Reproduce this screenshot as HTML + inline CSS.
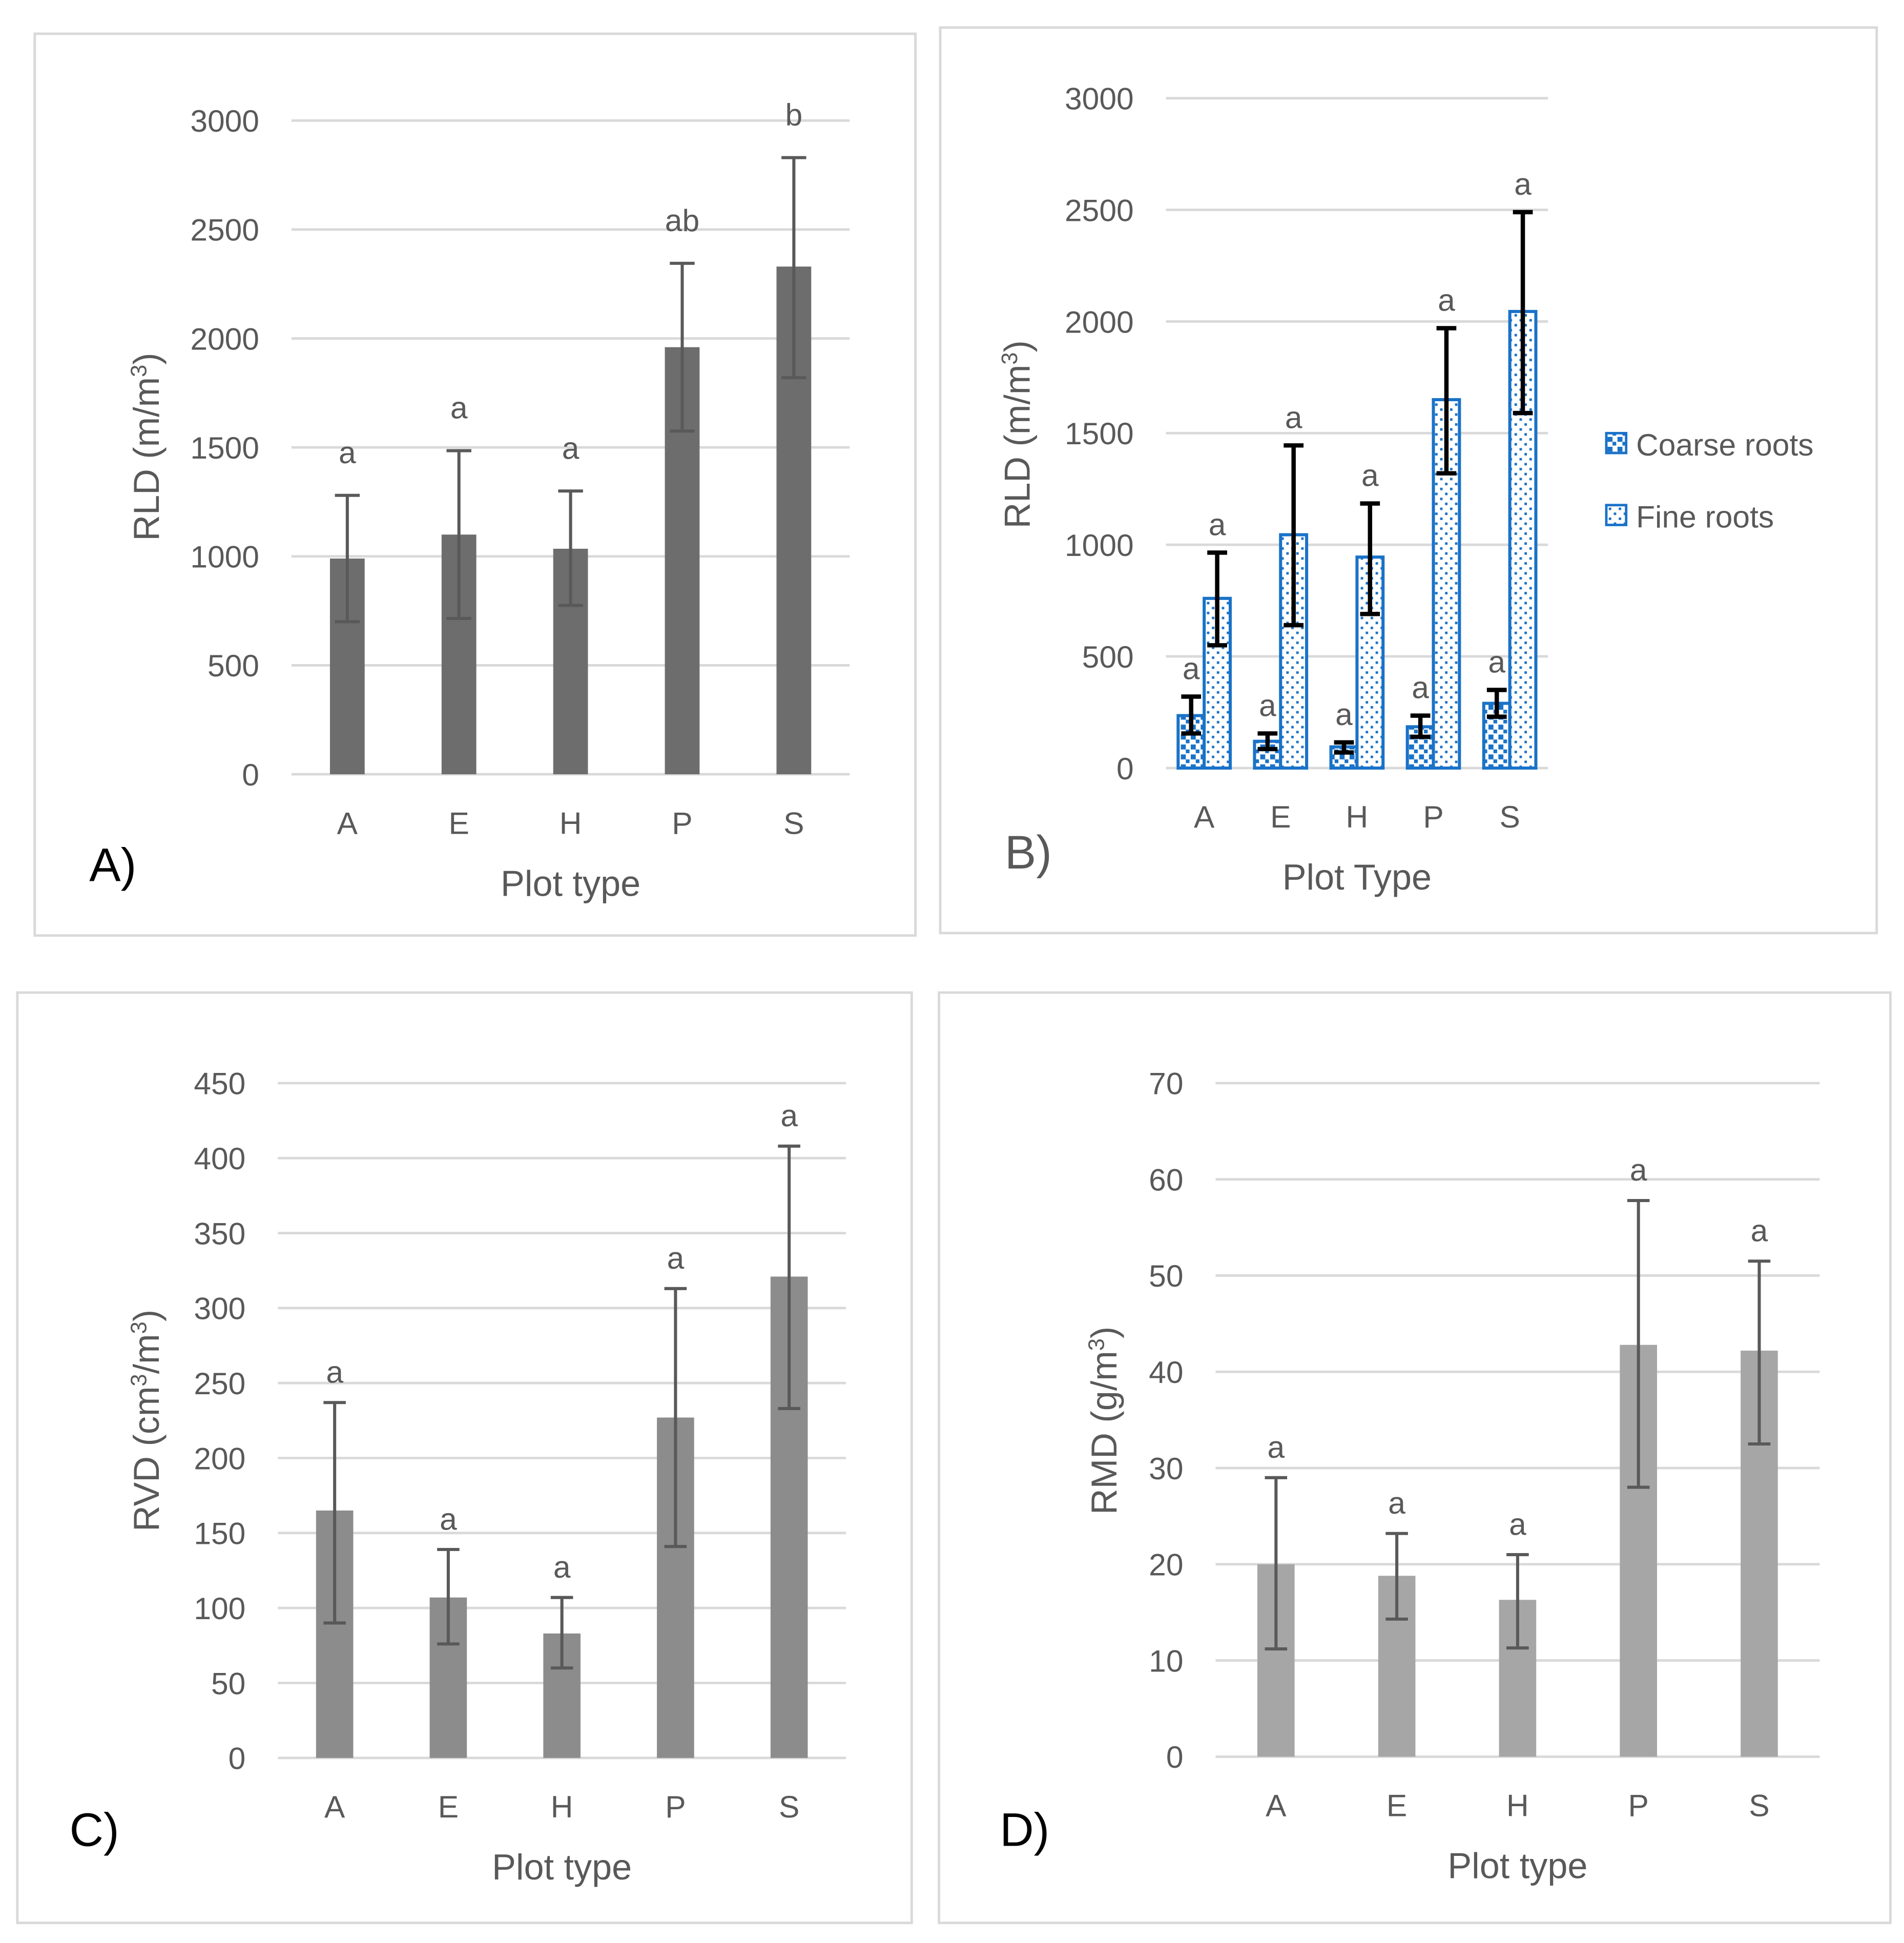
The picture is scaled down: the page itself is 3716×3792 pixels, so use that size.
<!DOCTYPE html>
<html><head><meta charset="utf-8"><style>
html,body{margin:0;padding:0;background:#fff}
svg{display:block;font-family:"Liberation Sans","DejaVu Sans",sans-serif}
</style></head><body>
<svg id="fig" width="3716" height="3792" viewBox="0 0 1535 1566" xmlns="http://www.w3.org/2000/svg">
<defs>
<pattern id="coarse" width="8" height="8" patternUnits="userSpaceOnUse">
<rect width="8" height="8" fill="#fff"/><rect x="0" y="0" width="4" height="4" fill="#1a72c8"/><rect x="4" y="4" width="3" height="3" fill="#1a72c8"/>
</pattern>
<pattern id="fine" width="8" height="8" patternUnits="userSpaceOnUse">
<rect width="8" height="8" fill="#fff"/><rect x="1" y="1" width="2" height="2" fill="#1a72c8"/><rect x="5" y="5" width="2" height="2" fill="#1a72c8"/>
</pattern>
</defs>
<g id="root"></g>
</svg>
<script>
const cats = ["A","E","H","P","S"];
// Panel A
const aVals = [990,1100,1035,1960,2330];
const aLo = [700,715,775,1575,1820];
const aHi = [1280,1485,1300,2345,2830];
const aSig = ["a","a","a","ab","b"];
const aTicks = [0,500,1000,1500,2000,2500,3000];
// Panel B
const bCoarse = [235,120,95,185,290];
const bCoarseLo = [155,85,70,140,230];
const bCoarseHi = [320,155,115,235,350];
const bFine = [760,1045,945,1650,2045];
const bFineLo = [550,640,690,1320,1590];
const bFineHi = [965,1445,1185,1970,2490];
const bSigC = ["a","a","a","a","a"];
const bSigF = ["a","a","a","a","a"];
const bTicks = [0,500,1000,1500,2000,2500,3000];
// Panel C
const cVals = [165,107,83,227,321];
const cLo = [90,76,60,141,233];
const cHi = [237,139,107,313,408];
const cSig = ["a","a","a","a","a"];
const cTicks = [0,50,100,150,200,250,300,350,400,450];
// Panel D
const dVals = [20,18.8,16.3,42.8,42.2];
const dLo = [11.2,14.3,11.3,28,32.5];
const dHi = [29,23.2,21,57.8,51.5];
const dSig = ["a","a","a","a","a"];
const dTicks = [0,10,20,30,40,50,60,70];

const NS="http://www.w3.org/2000/svg";
const root=document.getElementById('root');
function mk(tag,attrs,parent,text){const e=document.createElementNS(NS,tag);for(const k in attrs)e.setAttribute(k,attrs[k]);if(text!==undefined)e.textContent=text;(parent||root).appendChild(e);return e;}

function panel(cfg){
  const g=mk('g',{});
  
  
  const fr=mk('rect',{x:cfg.box[0],y:cfg.box[1],width:cfg.box[2]-cfg.box[0],height:cfg.box[3]-cfg.box[1],fill:'#fff',stroke:'#d9d9d9','stroke-width':2},g);
  
  
  const max=cfg.ticks[cfg.ticks.length-1];
  const y=v=>cfg.y0-(v/max)*(cfg.y0-cfg.yTop);
  const x=i=>cfg.x0+(i+0.5)*(cfg.x1-cfg.x0)/cats.length;
  cfg.ticks.forEach(t=>{
    const l=mk('line',{x1:cfg.x0,x2:cfg.x1,y1:y(t),y2:y(t),stroke:'#d9d9d9','stroke-width':2},g);
    
    
    const tx=mk('text',{x:cfg.x0-26,y:y(t)+9,'text-anchor':'end','font-size':25,fill:'#595959'},g,t);
    
    
  });
  cats.forEach((c,i)=>{
    const t=mk('text',{x:x(i),y:cfg.y0+48,'text-anchor':'middle','font-size':25,fill:'#595959'},g,c);
    
    
  });
  const xt=mk('text',{x:(cfg.x0+cfg.x1)/2,y:cfg.y0+98,'text-anchor':'middle','font-size':29,fill:'#595959'},g,cfg.xTitle);
  
  
  const yt=mk('text',{transform:`translate(${cfg.yTitleX},${cfg.yTitleY}) rotate(-90)`,'text-anchor':'middle','font-size':29,fill:'#595959'},g);
  yt.innerHTML=cfg.yTitle;
  
  
  const pl=mk('text',{x:cfg.letter[0],y:cfg.letter[1],'font-size':38,fill:cfg.letterColor||'#000'},g,cfg.letterText);
  
  
  return {g,x,y};
}

function simpleBars(cfg,vals,lo,hi,sig,color,w,ebColor,ebW,cap,sigOff){
  const p=panel(cfg);
  vals.forEach((v,i)=>{
    const cx=p.x(i);
    const b=mk('rect',{x:cx-w/2,y:p.y(v),width:w,height:p.y(0)-p.y(v),fill:color},p.g);
    
    
    const e=mk('path',{d:`M${cx},${p.y(lo[i])}V${p.y(hi[i])}M${cx-cap},${p.y(lo[i])}H${cx+cap}M${cx-cap},${p.y(hi[i])}H${cx+cap}`,stroke:ebColor,'stroke-width':ebW,fill:'none'},p.g);
    
    
    const s=mk('text',{x:cx,y:p.y(hi[i])-sigOff,'text-anchor':'middle','font-size':25,fill:'#595959'},p.g,sig[i]);
    
    
  });
}

simpleBars({name:'panel-a',box:[28,27,738,754],x0:235,x1:685,y0:624,yTop:97,ticks:aTicks,xTitle:'Plot type',
  yTitle:'RLD (m/m<tspan dy="-10" font-size="18">3</tspan><tspan dy="10">)</tspan>',yTitleX:128,yTitleY:360,letter:[72,710],letterText:'A)'},
  aVals,aLo,aHi,aSig,'#6d6d6d',28,'#595959',2.5,10,26);

simpleBars({name:'panel-c',box:[14,800,735,1550],x0:224,x1:682,y0:1417,yTop:873,ticks:cTicks,xTitle:'Plot type',
  yTitle:'RVD (cm<tspan dy="-10" font-size="18">3</tspan><tspan dy="10">/m</tspan><tspan dy="-10" font-size="18">3</tspan><tspan dy="10">)</tspan>',yTitleX:128,yTitleY:1145,letter:[56,1488],letterText:'C)'},
  cVals,cLo,cHi,cSig,'#8c8c8c',30,'#595959',2.5,9,16);

simpleBars({name:'panel-d',box:[757,800,1524,1550],x0:980,x1:1467,y0:1416,yTop:873,ticks:dTicks,xTitle:'Plot type',
  yTitle:'RMD (g/m<tspan dy="-10" font-size="18">3</tspan><tspan dy="10">)</tspan>',yTitleX:900,yTitleY:1145,letter:[806,1488],letterText:'D)'},
  dVals,dLo,dHi,dSig,'#a6a6a6',30,'#595959',2.5,9,16);

// Panel B
(function(){
  const cfg={name:'panel-b',box:[758,22,1513,752],x0:940,x1:1248,y0:619,yTop:79,ticks:bTicks,xTitle:'Plot Type',
    yTitle:'RLD (m/m<tspan dy="-10" font-size="18">3</tspan><tspan dy="10">)</tspan>',yTitleX:830,yTitleY:350,letter:[810,700],letterText:'B)',letterColor:'#595959'};
  const p=panel(cfg);
  const w=21;
  function bar(cx,v,lo,hi,s,fill,nm){
    const b=mk('rect',{x:cx-w/2,y:p.y(v),width:w,height:p.y(0)-p.y(v),fill:fill,stroke:'#1a72c8','stroke-width':2.5},p.g);
    
    
    const e=mk('path',{d:`M${cx},${p.y(lo)}V${p.y(hi)}M${cx-8},${p.y(lo)}H${cx+8}M${cx-8},${p.y(hi)}H${cx+8}`,stroke:'#000','stroke-width':3.5,fill:'none'},p.g);
    
    
    const t=mk('text',{x:cx,y:p.y(hi)-14,'text-anchor':'middle','font-size':25,fill:'#595959'},p.g,s);
    
    
  }
  cats.forEach((c,i)=>{
    const cx=p.x(i);
    bar(cx-10.5,bCoarse[i],bCoarseLo[i],bCoarseHi[i],bSigC[i],'url(#coarse)','coarse-bar-'+c);
    bar(cx+10.5,bFine[i],bFineLo[i],bFineHi[i],bSigF[i],'url(#fine)','fine-bar-'+c);
  });
  [['Coarse roots','url(#coarse)',358],['Fine roots','url(#fine)',416]].forEach(([lab,f,yy])=>{
    const r=mk('rect',{x:1295,y:yy-9,width:16,height:16,fill:f,stroke:'#1a72c8','stroke-width':2},p.g);
    
    
    const t=mk('text',{x:1319,y:yy+9,'font-size':25,fill:'#595959'},p.g,lab);
    
    
  });
})();
</script>
</body></html>
